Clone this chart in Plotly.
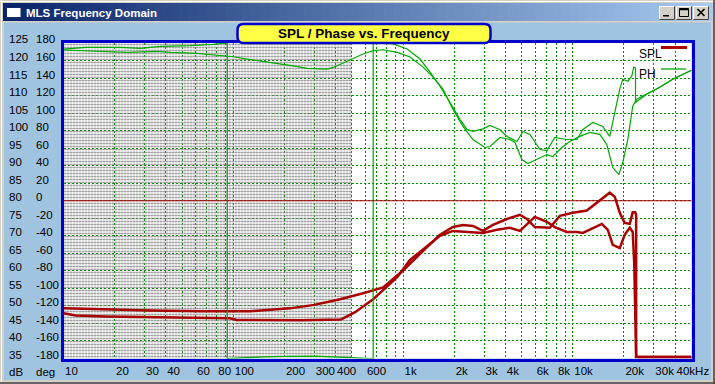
import plotly.graph_objects as go

# ---------------- data ----------------
SPL_A_FREQ = [10, 16.1, 32.5, 64, 126, 216, 300, 426, 582, 763, 1000, 1384, 1650, 1968,
              2254, 2581, 2956, 3384, 4090, 4880, 5360, 5970, 7320, 8390, 10000, 12090,
              14410, 16500, 17670, 18900, 20200, 21640, 22520, 23300, 23600, 23600, 50000]
SPL_A_DB = [49.3, 49.0, 48.7, 48.5, 48.5, 49.3, 50.3, 51.9, 53.6, 55.3, 60.1, 66.8, 70.3, 72.5,
            73.1, 72.8, 71.4, 73.1, 74.8, 76.0, 74.8, 72.5, 72.3, 75.7, 76.6, 77.2,
            80.0, 82.3, 81.1, 76.6, 73.7, 73.4, 76.7, 76.7, 76.0, 35.4, 35.4]

SPL_B_FREQ = [10, 11.8, 17.7, 60, 95, 105, 250, 430, 522, 667, 763, 923, 1099, 1384, 1650,
              1968, 2477, 2956, 3573, 4260, 4880, 5970, 7030, 7830, 9220, 10570, 11460,
              14820, 16070, 17190, 18900, 20200, 21640, 22520, 23000, 23600, 50000]
SPL_B_DB = [47.9, 47.3, 47.0, 46.7, 46.5, 46.0, 45.9, 46.1, 48.2, 51.9, 54.5, 58.2, 63.1, 67.1, 70.0,
            71.4, 71.1, 70.8, 71.7, 72.3, 71.4, 75.4, 74.0, 72.5, 71.1, 71.1, 70.8,
            73.4, 71.7, 67.4, 66.5, 70.3, 72.3, 71.1, 62.2, 35.4, 35.4]

# phase as displayed (wrapped into -180..180)
PH1_FREQ = [10, 13.5, 21.6, 28.4, 37.2, 55.9, 76.2, 89.7, 92.2, 92.2, 100, 120, 150, 200,
            300, 400, 500, 600, 667, 667, 763, 873, 1056, 1259, 1442, 1650, 1888, 2163,
            2377, 2581, 2956, 3250, 3725, 4090, 4690, 5080, 5590, 6400, 7030, 7830, 9220,
            10570, 11460, 13120, 15010, 16500, 17670, 18900, 19680, 21090, 22230, 22850,
            23400, 23400, 27230, 32480, 38740, 48080, 50000]
PH1_DEG = [173.1, 175.1, 175.1, 173.9, 176.2, 176.9, 178.5, 179.7, 180.0, -180.0, -179.5, -179.0, -178.2, -177.5,
           -177.4, -178.2, -179.2, -179.7, -180.0, 180.0, 179.8, 178.9, 173.1, 161.7, 146.8, 130.7, 112.4, 92.9,
           81.4, 79.1, 82.0, 85.9, 81.0, 73.4, 67.6, 79.1, 75.7, 58.5, 57.3, 72.2, 69.9,
           69.9, 81.4, 89.4, 84.8, 73.4, 100.9, 127.3, 138.7, 136.4, 142.2, 152.5,
           151.3, 112.0, 121.5, 129.6, 138.7, 147.9, 149.0]

PH2_FREQ = [10, 16.5, 18.9, 23.8, 35.7, 42.6, 61.4, 80.5, 100, 120.7, 144, 172, 225, 272,
            357, 388, 443, 508, 582, 667, 763, 923, 1099, 1313, 1501, 1718, 1968, 2254,
            2581, 3035, 3250, 3725, 4260, 4563, 5010, 5435, 6140, 7030, 7620, 8610, 9590,
            11000, 12590, 14410, 15850, 17190, 18660, 19680, 21090, 22520, 23770, 27230,
            32480, 38740, 48080, 50000]
PH2_DEG = [172.0, 170.8, 170.0, 169.3, 170.5, 169.3, 168.2, 166.2, 164.3, 161.7, 159.7, 157.1, 154.0, 151.0,
           150.2, 152.1, 157.1, 162.5, 167.4, 171.2, 172.3, 169.3, 164.0, 152.5, 141.0, 127.3, 104.3, 84.8,
           69.9, 60.8, 61.9, 72.2, 69.9, 66.5, 47.0, 42.4, 47.0, 52.7, 50.4, 60.8, 67.6,
           73.4, 78.0, 75.7, 64.2, 37.9, 29.8, 43.6, 69.9, 107.8, 115.8, 121.5,
           129.6, 138.7, 147.9, 149.0]

GATE_LOW_HZ = 10          # hatched (unreliable) low-frequency region
GATE_HIGH_HZ = 500
REF_LEVEL_DB = 80         # horizontal reference line (0 deg)

GRID_FREQS = [10, 20, 30, 40, 50, 60, 70, 80, 90, 100, 200, 300, 400, 500, 600, 700, 800, 900,
              1000, 2000, 3000, 4000, 5000, 6000, 7000, 8000, 9000, 10000, 20000, 30000, 40000]
GRID_LABELS = ["10", "20", "30", "40", "", "60", "", "80", "", "100", "200", "300", "400", "", "600", "", "", "",
               "1k", "2k", "3k", "4k", "", "6k", "", "8k", "", "10k", "20k", "30k", "40kHz"]
DB_TICKS = [125, 120, 115, 110, 105, 100, 95, 90, 85, 80, 75, 70, 65, 60, 55, 50, 45, 40, 35]
DEG_TICKS = [180, 160, 140, 120, 100, 80, 60, 40, 20, 0, -20, -40, -60, -80, -100, -120, -140, -160, -180]
DB_RANGE = [35, 125]
DEG_RANGE = [-180, 180]
X_RANGE_HZ = [10, 50000]

# ---------------- styling / layout ----------------
import math
W, H = 715, 384
FONT = "Liberation Sans, Arial, sans-serif"
RED = "#A80000"
GREEN = "#00A800"
GRID = "#009000"
BLUE = "#0000CC"
BODY = "#A0C4E0"
FRAME = "#D4D0C8"


def fx(p):
    return p / W


def fy(p):
    return 1 - p / H


X_DOM = [fx(63.5), fx(691.5)]
Y_DOM = [fy(358.5), fy(43)]

fig = go.Figure()

# hatched low-frequency region
fig.add_trace(go.Scatter(
    x=[GATE_LOW_HZ, GATE_HIGH_HZ, GATE_HIGH_HZ, GATE_LOW_HZ, GATE_LOW_HZ],
    y=[DB_RANGE[0], DB_RANGE[0], DB_RANGE[1], DB_RANGE[1], DB_RANGE[0]],
    fill="toself", mode="lines", line=dict(width=0),
    fillcolor="rgba(0,0,0,0)",
    fillpattern=dict(shape=".", size=3, solidity=0.38, fgcolor="#808080",
                     bgcolor="rgba(0,0,0,0)", fillmode="replace"),
    hoverinfo="skip", showlegend=False, yaxis="y"))

for fr, ph in [(PH1_FREQ, PH1_DEG), (PH2_FREQ, PH2_DEG)]:
    fig.add_trace(go.Scatter(x=fr, y=ph, mode="lines", yaxis="y2",
                             line=dict(color=GREEN, width=1.2), showlegend=False))
for fr, db in [(SPL_A_FREQ, SPL_A_DB), (SPL_B_FREQ, SPL_B_DB)]:
    fig.add_trace(go.Scatter(x=fr, y=db, mode="lines", yaxis="y",
                             line=dict(color=RED, width=2.5), showlegend=False))

shapes = []
# window frame (outside the plot area)
for (x0, y0, x1, y1) in [(0, 0, W, 22.5), (0, 0, 4, H), (711, 0, W, H), (0, 380, W, H)]:
    shapes.append(dict(type="rect", xref="paper", yref="paper", x0=fx(x0), x1=fx(x1),
                       y0=fy(y1), y1=fy(y0), fillcolor=FRAME, line=dict(width=0), layer="below"))
shapes.append(dict(type="line", xref="paper", yref="paper", x0=fx(0), x1=fx(W), y0=fy(1.5), y1=fy(1.5),
                   line=dict(color="white", width=1), layer="below"))
shapes.append(dict(type="line", xref="paper", yref="paper", x0=fx(1.5), x1=fx(1.5), y0=fy(0), y1=fy(H),
                   line=dict(color="white", width=1), layer="below"))
shapes.append(dict(type="line", xref="paper", yref="paper", x0=fx(0), x1=fx(W), y0=fy(383), y1=fy(383),
                   line=dict(color="#404040", width=1.5), layer="below"))
shapes.append(dict(type="line", xref="paper", yref="paper", x0=fx(714), x1=fx(714), y0=fy(0), y1=fy(H),
                   line=dict(color="#404040", width=1.5), layer="below"))

# title bar gradient
c0 = (10, 36, 106)
c1 = (166, 202, 240)
N = 80
bx0, bx1 = 3, 712
step = (bx1 - bx0) / N
for i in range(N):
    t = i / (N - 1)
    col = "rgb(%d,%d,%d)" % tuple(round(a + (b - a) * t) for a, b in zip(c0, c1))
    shapes.append(dict(type="rect", xref="paper", yref="paper",
                       x0=fx(bx0 + i * step), x1=fx(bx0 + (i + 1) * step + 0.6),
                       y0=fy(21), y1=fy(3), fillcolor=col, line=dict(width=0), layer="below"))
# icon
shapes.append(dict(type="rect", xref="paper", yref="paper", x0=fx(6.5), x1=fx(21), y0=fy(17.5), y1=fy(7.5),
                   fillcolor="white", line=dict(color="#10306A", width=1), layer="below"))
# buttons
for bx in [659, 676, 693]:
    shapes.append(dict(type="rect", xref="paper", yref="paper", x0=fx(bx), x1=fx(bx + 16),
                       y0=fy(20), y1=fy(6), fillcolor=FRAME, line=dict(width=0), layer="below"))
    shapes.append(dict(type="path", xref="paper", yref="paper",
                       path="M %f %f L %f %f L %f %f" % (fx(bx + 0.5), fy(19.5), fx(bx + 0.5), fy(6.5), fx(bx + 15.5), fy(6.5)),
                       line=dict(color="white", width=1), layer="below"))
    shapes.append(dict(type="path", xref="paper", yref="paper",
                       path="M %f %f L %f %f L %f %f" % (fx(bx + 0.5), fy(19.5), fx(bx + 15.5), fy(19.5), fx(bx + 15.5), fy(6.5)),
                       line=dict(color="#404040", width=1), layer="below"))
# minimize glyph
shapes.append(dict(type="rect", xref="paper", yref="paper", x0=fx(663), x1=fx(669), y0=fy(16.5), y1=fy(15),
                   fillcolor="black", line=dict(width=0), layer="below"))
# maximize glyph
shapes.append(dict(type="rect", xref="paper", yref="paper", x0=fx(679.5), x1=fx(688.5), y0=fy(16.5), y1=fy(8.5),
                   fillcolor="rgba(0,0,0,0)", line=dict(color="black", width=1), layer="below"))
shapes.append(dict(type="line", xref="paper", yref="paper", x0=fx(679.5), x1=fx(688.5), y0=fy(9.5), y1=fy(9.5),
                   line=dict(color="black", width=1.5), layer="below"))
# close glyph
shapes.append(dict(type="line", xref="paper", yref="paper", x0=fx(697.5), x1=fx(704.5), y0=fy(9), y1=fy(16),
                   line=dict(color="black", width=1.6), layer="below"))
shapes.append(dict(type="line", xref="paper", yref="paper", x0=fx(697.5), x1=fx(704.5), y0=fy(16), y1=fy(9),
                   line=dict(color="black", width=1.6), layer="below"))

# reference line at 0 deg / 80 dB (across the plot area only)
shapes.append(dict(type="line", xref="paper", yref="y", x0=X_DOM[0], x1=X_DOM[1],
                   y0=REF_LEVEL_DB, y1=REF_LEVEL_DB,
                   line=dict(color=RED, width=1), layer="above"))

# rounded yellow title box
L, R, T, B, r = 237.5, 490.5, 24, 43, 6
p = ("M %f %f L %f %f Q %f %f %f %f L %f %f Q %f %f %f %f L %f %f Q %f %f %f %f L %f %f Q %f %f %f %f Z" % (
    fx(L + r), fy(T), fx(R - r), fy(T), fx(R), fy(T), fx(R), fy(T + r), fx(R), fy(B - r),
    fx(R), fy(B), fx(R - r), fy(B), fx(L + r), fy(B), fx(L), fy(B), fx(L), fy(B - r),
    fx(L), fy(T + r), fx(L), fy(T), fx(L + r), fy(T)))
shapes.append(dict(type="path", xref="paper", yref="paper", path=p, fillcolor="#FFFF44",
                   line=dict(color=BLUE, width=2.5), layer="above"))

# legend samples
shapes.append(dict(type="line", xref="paper", yref="paper", x0=fx(661), x1=fx(687), y0=fy(47.5), y1=fy(47.5),
                   line=dict(color=RED, width=3), layer="above"))
shapes.append(dict(type="line", xref="paper", yref="paper", x0=fx(661), x1=fx(686), y0=fy(69), y1=fy(69),
                   line=dict(color=GREEN, width=1.3), layer="above"))

ann = []
lab_font = dict(family=FONT, size=11.5, color="black")
for v in DB_TICKS:
    ann.append(dict(x=fx(7), xref="paper", xanchor="left", y=v, yref="y", yanchor="middle",
                    yshift=3.5, text=str(v), showarrow=False, font=lab_font))
for v in DEG_TICKS:
    ann.append(dict(x=fx(34), xref="paper", xanchor="left", y=v, yref="y2", yanchor="middle",
                    yshift=3.5, text=str(v), showarrow=False, font=lab_font))
ann.append(dict(x=fx(7), xref="paper", xanchor="left", y=fy(371.5), yref="paper", yanchor="middle",
                text="dB", showarrow=False, font=lab_font))
ann.append(dict(x=fx(34), xref="paper", xanchor="left", y=fy(371.5), yref="paper", yanchor="middle",
                text="deg", showarrow=False, font=lab_font))
ann.append(dict(x=fx(24), xref="paper", xanchor="left", y=fy(12.5), yref="paper", yanchor="middle",
                text="<b>MLS Frequency Domain</b>", showarrow=False,
                font=dict(family=FONT, size=11.5, color="white")))
ann.append(dict(x=fx(364), xref="paper", xanchor="center", y=fy(33.5), yref="paper", yanchor="middle",
                text="<b>SPL / Phase vs. Frequency</b>", showarrow=False,
                font=dict(family=FONT, size=13.5, color="black")))
ann.append(dict(x=fx(637), xref="paper", xanchor="left", y=fy(54), yref="paper", yanchor="middle",
                text="SPL", showarrow=False, font=dict(family=FONT, size=12, color="black")))
ann.append(dict(x=fx(637), xref="paper", xanchor="left", y=fy(73.5), yref="paper", yanchor="middle",
                text="PH", showarrow=False, font=dict(family=FONT, size=12, color="black")))

fig.update_layout(
    width=W, height=H,
    margin=dict(l=0, r=0, t=0, b=0, autoexpand=False),
    paper_bgcolor=BODY, plot_bgcolor="white",
    showlegend=False,
    font=dict(family=FONT, size=11.5, color="black"),
    xaxis=dict(type="log", range=[math.log10(X_RANGE_HZ[0]), math.log10(X_RANGE_HZ[1])],
               domain=X_DOM, automargin=False,
               tickmode="array", tickvals=GRID_FREQS, ticktext=GRID_LABELS,
               ticklabelposition="outside right", ticks="", tickangle=0,
               ticklabeloverflow="allow",
               showgrid=True, gridcolor=GRID, griddash="2px,2px", gridwidth=1,
               showline=True, linecolor=BLUE, linewidth=3, mirror=True,
               zeroline=False, tickfont=lab_font, fixedrange=True),
    yaxis=dict(range=DB_RANGE, domain=Y_DOM, automargin=False,
               tickmode="linear", tick0=35, dtick=5,
               showticklabels=False, ticks="",
               showgrid=True, gridcolor=GRID, griddash="2px,2px", gridwidth=1,
               showline=True, linecolor=BLUE, linewidth=3, mirror=True,
               zeroline=False, fixedrange=True),
    yaxis2=dict(range=DEG_RANGE, overlaying="y", showgrid=False, showticklabels=False,
                ticks="", zeroline=False, showline=False, fixedrange=True, automargin=False),
    shapes=shapes, annotations=ann,
)

fig.write_html("out.html", config={"displayModeBar": False},
               post_script="document.body.style.margin='0';document.body.style.overflow='hidden';")
